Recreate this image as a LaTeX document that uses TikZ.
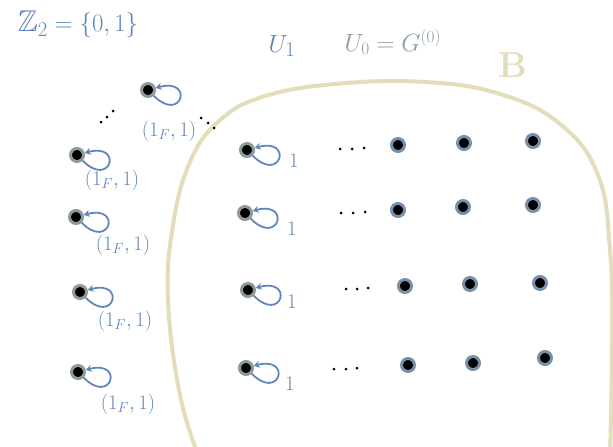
\documentclass[tikz,border=0pt]{standalone}
\usepackage{amsmath,amssymb}
\usepackage{xcolor}
\usetikzlibrary{arrows.meta}
\definecolor{penblue}{HTML}{5F86B8}
\definecolor{pengray}{HTML}{8C9BA0}
\definecolor{ringgray}{HTML}{8E9A9A}
\definecolor{ringblue}{HTML}{7890AA}
\definecolor{sand}{HTML}{E3DDB9}

\begin{document}
\begin{tikzpicture}[x=1pt, y=-1pt, vertex/.style={circle, fill=black, draw=#1, line width=3pt, inner sep=0pt, minimum size=13pt}, vertex/.default=ringgray, selfloop/.style={draw=penblue, line width=1.8pt, -{Stealth[length=6pt,width=7pt]}, out=-45, in=15, min distance=40pt}, lbl/.style={text=penblue, inner sep=1pt, font=\fontsize{21}{23}\selectfont}, tinydot/.style={fill=black}]
\useasboundingbox (0,0) rectangle (613,447);
\clip (0,0) rectangle (613,447);
% the set B
\draw[sand, line width=4pt] plot[smooth, tension=0.7] coordinates {(200,460) (180,395) (168,300) (173,225) (190,162) (218,122) (262,97) (335,84) (425,82) (500,94) (560,124) (598,175) (610,250) (612,340) (610,460)};
\node[text=sand, font=\bfseries\fontsize{36}{38}\selectfont] (bname) at (513,65) {B};
% titles
\node[text=penblue, font=\fontsize{30}{34}\selectfont] (ztwo) at (78,24) {$\mathbb{Z}_2=\{0,1\}$};
\node[text=penblue, font=\fontsize{28}{32}\selectfont] (uone) at (282,46) {$U_1$};
\node[text=pengray, font=\fontsize{23}{26}\selectfont] (uzero) at (393,42) {$U_0=G^{(0)}$};
% vertices outside B
\node[vertex] (o0) at (148,90) {};
\node[vertex] (o1) at (77,155) {};
\node[vertex] (o2) at (76,217) {};
\node[vertex] (o3) at (80,292) {};
\node[vertex] (o4) at (78,372) {};
\draw[selfloop] (o0) to (o0);
\draw[selfloop] (o1) to (o1);
\draw[selfloop] (o2) to (o2);
\draw[selfloop] (o3) to (o3);
\draw[selfloop] (o4) to (o4);
\node[lbl] (l0) at (169,131) {$(1_F,1)$};
\node[lbl] (l1) at (112,180) {$(1_F,1)$};
\node[lbl] (l2) at (123,245) {$(1_F,1)$};
\node[lbl] (l3) at (125,321) {$(1_F,1)$};
\node[lbl] (l4) at (128,404) {$(1_F,1)$};
% dots between the outer vertices
\foreach \p in {(101,122),(107,117),(113,111),(201,118),(208,123),(214,128)}
  \fill[tinydot] \p circle (1.5pt);
% vertices inside B
\node[vertex] (a1) at (247,150) {};
\node[vertex] (a2) at (245,213) {};
\node[vertex] (a3) at (248,290) {};
\node[vertex] (a4) at (246,368) {};
\draw[selfloop] (a1) to (a1);
\draw[selfloop] (a2) to (a2);
\draw[selfloop] (a3) to (a3);
\draw[selfloop] (a4) to (a4);
\node[lbl, font=\fontsize{22}{24}\selectfont] (n1) at (294,161) {$1$};
\node[lbl, font=\fontsize{22}{24}\selectfont] (n2) at (292,229) {$1$};
\node[lbl, font=\fontsize{22}{24}\selectfont] (n3) at (292,302) {$1$};
\node[lbl, font=\fontsize{22}{24}\selectfont] (n4) at (290,384) {$1$};
% dots along the rows
\foreach \x/\y in {340/149, 352/149, 364/148, 341/213, 353/213, 365/212, 346/289, 357/289, 368/288, 334/369, 346/369, 357/368}
  \fill[tinydot] (\x,\y) circle (1.5pt);
\node[vertex=ringblue] (b11) at (398,145) {};
\node[vertex=ringblue] (b12) at (464,143) {};
\node[vertex=ringblue] (b13) at (533,141) {};
\node[vertex=ringblue] (b21) at (398,210) {};
\node[vertex=ringblue] (b22) at (463,207) {};
\node[vertex=ringblue] (b23) at (533,205) {};
\node[vertex=ringblue] (b31) at (405,286) {};
\node[vertex=ringblue] (b32) at (470,284) {};
\node[vertex=ringblue] (b33) at (540,283) {};
\node[vertex=ringblue] (b41) at (408,365) {};
\node[vertex=ringblue] (b42) at (473,363) {};
\node[vertex=ringblue] (b43) at (545,358) {};
\end{tikzpicture}
\end{document}
